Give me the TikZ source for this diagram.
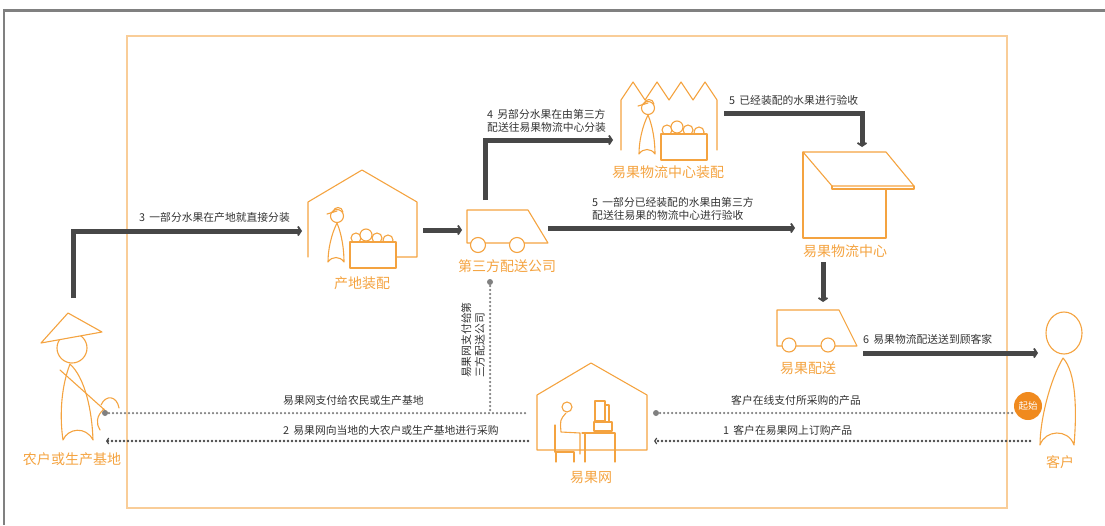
\documentclass[tikz,border=0pt]{standalone}
\usepackage{fontspec}
\setmainfont{Noto Sans CJK SC}
\usepackage{xcolor}
\usetikzlibrary{arrows.meta}
\definecolor{guo}{HTML}{F4A340}
\definecolor{guoclaro}{HTML}{F9CD98}
\definecolor{qidian}{HTML}{F08A1E}
\definecolor{flecha}{HTML}{474747}
\definecolor{marco}{HTML}{808080}
\definecolor{negro}{HTML}{333333}
\tikzset{
  trazo/.style={guo, line width=1.1pt, line join=round, line cap=round},
  flujo/.style={flecha, line width=5pt, -{Straight Barb[length=3pt,width=9pt,line width=1.8pt]}},
  pago/.style={marco, line width=2.5pt, dash pattern=on 0pt off 4pt, line cap=round},
  pedido/.style={flecha, line width=2.6pt, dash pattern=on 0pt off 4pt, line cap=round,
    -{Straight Barb[length=2pt,width=6pt,line width=1.2pt]}},
  etiq/.style={font=\fontsize{10.8}{13.5}\selectfont, text=negro, inner sep=0pt},
  nombre/.style={font=\fontsize{14}{16}\selectfont, text=guo, inner sep=0pt},
}
% trabajador con su caja de fruta, #1 = centro de la cabeza
\newcommand{\empaque}[1]{%
  \begin{scope}[shift={#1}]
    \draw[trazo, fill=white] (0,0) circle (6.5);
    \draw[trazo] (-10,-2) -- (0,-5);
    \draw[trazo] (-4,-4) .. controls (-3,-10) and (5,-10) .. (6,-4);
    \draw[trazo] (0,7) .. controls (-6,19) and (-9,34) .. (-9,46)
      .. controls (-5,40) and (3,40) .. (7,46) .. controls (7,34) and (5,19) .. (0,7);
    \foreach \fx/\fy/\fr in {19/22/5, 29/19/6, 40/22/5, 51/24/5}
      \draw[trazo, fill=white] (\fx,\fy) circle (\fr);
    \draw[trazo, fill=white] (13,26) rectangle (59,52);
  \end{scope}}

\begin{document}
\begin{tikzpicture}[x=1pt,y=-1pt]
\useasboundingbox (0,0) rectangle (1105,525);
% marcos
\draw[marco, line width=3pt] (3,10) -- (1105,10);
\draw[marco, line width=1.5pt] (4,10) -- (4,525);
\draw[guoclaro, line width=1.4pt] (127,36) rectangle (1007,508);

% agricultor
\draw[trazo] (72,348) circle (15);
\draw[trazo, fill=white] (41,343) -- (68,313) -- (102,332) -- cycle;
\draw[trazo] (70,364) .. controls (60,390) and (60,420) .. (63,440)
  .. controls (68,428) and (86,426) .. (93,440) .. controls (92,410) and (85,378) .. (70,364);
\draw[trazo] (60,370) -- (108,413);
\draw[trazo] (101,405) .. controls (106,394) and (117,396) .. (119,408);
\draw[trazo] (104,409) .. controls (96,416) and (96,424) .. (100,430);
\node[nombre] (nong) at (72,459) {农户或生产基地};

% producto empacado en el campo
\draw[trazo] (308,257) -- (308,202) -- (362,170) -- (417,202) -- (417,257) -- (395,257);
\empaque{(337,216)}
\node[nombre] (chandi) at (362,283) {产地装配};

% camion de la tercera empresa
\draw[trazo] (467,210) -- (528,210) -- (548,243) -- (467,243) -- cycle;
\draw[trazo, fill=white] (478,245) circle (7.5);
\draw[trazo, fill=white] (517,245) circle (7.5);
\node[nombre] (disanfang) at (507,266) {第三方配送公司};

% centro logistico con empaque
\draw[trazo] (621,150) -- (621,100) \foreach \i in {1,...,4} { -- ++(12,-18) -- ++(12,18)} -- (717,150);
\empaque{(648,108)}
\node[nombre] (zpei) at (668,172) {易果物流中心装配};

% centro logistico
\draw[trazo] (803,152) -- (803,238) -- (886,238) -- (886,189);
\draw[trazo] (803,152) -- (886,152) -- (914,186) -- (832,186) -- cycle;
\draw[trazo] (832,186) -- (832,189) -- (914,189) -- (914,186);
\node[nombre] (zhongxin) at (845,251) {易果物流中心};

% camion de reparto
\draw[trazo] (777,310) -- (839,310) -- (857,346) -- (777,346) -- cycle;
\draw[trazo, fill=white] (789,345) circle (7);
\draw[trazo, fill=white] (828,345) circle (7);
\node[nombre] (peisong) at (808,368) {易果配送};

% cliente
\draw[trazo] (1064,333) ellipse (18 and 21);
\draw[trazo] (1063,358) .. controls (1050,380) and (1040,420) .. (1040,445)
  .. controls (1045,430) and (1068,428) .. (1074,445) .. controls (1077,410) and (1076,372) .. (1063,358);
\node[nombre] (kehu) at (1060,462) {客户};
\node[circle, fill=qidian, minimum size=28pt, inner sep=0pt, text=white,
  font=\fontsize{9.5}{10}\selectfont] (qishi) at (1028,406) {起始};

% tienda en linea
\draw[trazo] (537,450) -- (537,395) -- (591,363) -- (647,395) -- (647,450) -- cycle;
\draw[trazo] (567,407) circle (5);
\draw[trazo] (566,413) .. controls (560,420) .. (561,432) -- (580,433) -- (580,454);
\draw[trazo] (555,425) -- (555,452) -- (574,452) -- (574,462);
\draw[trazo] (556,462) -- (556,452);
\draw[trazo] (582,433) -- (615,433) -- (615,462);
\draw[trazo] (585,433) -- (585,462);
\draw[trazo] (595,401) rectangle (605,421);
\draw[trazo] (605,405) -- (609,405) -- (609,421);
\draw[trazo] (594,422) rectangle (612,431);
\node[nombre] (yiguo) at (591,478) {易果网};

% puntos de los conectores
\coordinate (nong-sal) at (73,298);
\coordinate (chandi-ent) at (302,231);
\coordinate (chandi-sal) at (423,230);
\coordinate (camion-ent) at (462,230);
\coordinate (camion-arr) at (485,200);
\coordinate (zpei-ent) at (613,140);
\coordinate (camion-der) at (548,228);
\coordinate (zhongxin-izq) at (795,228);
\coordinate (zpei-sal) at (724,113);
\coordinate (zhongxin-arr) at (862,147);
\coordinate (zhongxin-aba) at (823,262);
\coordinate (peisong-arr) at (823,302);
\coordinate (peisong-sal) at (863,353);
\coordinate (kehu-ent) at (1038,353);

% flujo de la fruta
\draw[flujo] (nong-sal) |- (chandi-ent);
\node[etiq, anchor=south west] (t3) at (139,223) {3\, 一部分水果在产地就直接分装};
\draw[flujo] (chandi-sal) -- (camion-ent);
\draw[flujo] (camion-arr) |- (zpei-ent);
\node[etiq, anchor=south west, align=left] (t4) at (487,133) {4\, 另部分水果在由第三方\\配送往易果物流中心分装};
\draw[flujo] (camion-der) -- (zhongxin-izq);
\node[etiq, anchor=south west, align=left] (t5a) at (592,221) {5\, 一部分已经装配的水果由第三方\\配送往易果的物流中心进行验收};
\draw[flujo] (zpei-sal) -| (zhongxin-arr);
\node[etiq, anchor=south west] (t5b) at (729,106) {5\, 已经装配的水果进行验收};
\draw[flujo] (zhongxin-aba) -- (peisong-arr);
\draw[flujo] (peisong-sal) -- (kehu-ent);
\node[etiq, anchor=south west] (t6) at (863,345) {6\, 易果物流配送送到顾客家};

% pagos y pedidos
\coordinate (nong-pago) at (105,413);
\coordinate (nong-ped) at (106,441);
\coordinate (yiguo-izq1) at (528,413);
\coordinate (yiguo-izq2) at (528,441);
\coordinate (yiguo-der1) at (656,413);
\coordinate (yiguo-der2) at (654,441);
\coordinate (kehu-pago) at (1015,413);
\coordinate (kehu-ped) at (1030,441);
\coordinate (camion-pago) at (490,282);
\coordinate (camion-baja) at (490,413);

\draw[pago] (nong-pago) -- (yiguo-izq1);
\fill[marco] (nong-pago) circle (3);
\node[etiq, anchor=south west] (tp1) at (283,406) {易果网支付给农民或生产基地};
\draw[pedido] (yiguo-izq2) -- (nong-ped);
\node[etiq, anchor=south west] (t2) at (283,436) {2\, 易果网向当地的大农户或生产基地进行采购};
\draw[pago] (camion-pago) -- (camion-baja);
\fill[marco] (camion-pago) circle (3);
\node[etiq, rotate=90, align=left] (tp2) at (473,340) {易果网支付给第\\三方配送公司};
\draw[pago] (yiguo-der1) -- (kehu-pago);
\fill[marco] (yiguo-der1) circle (3);
\node[etiq, anchor=south west] (tp3) at (731,406) {客户在线支付所采购的产品};
\draw[pedido] (kehu-ped) -- (yiguo-der2);
\node[etiq, anchor=south west] (t1) at (723,436) {1\, 客户在易果网上订购产品};
\end{tikzpicture}
\end{document}
